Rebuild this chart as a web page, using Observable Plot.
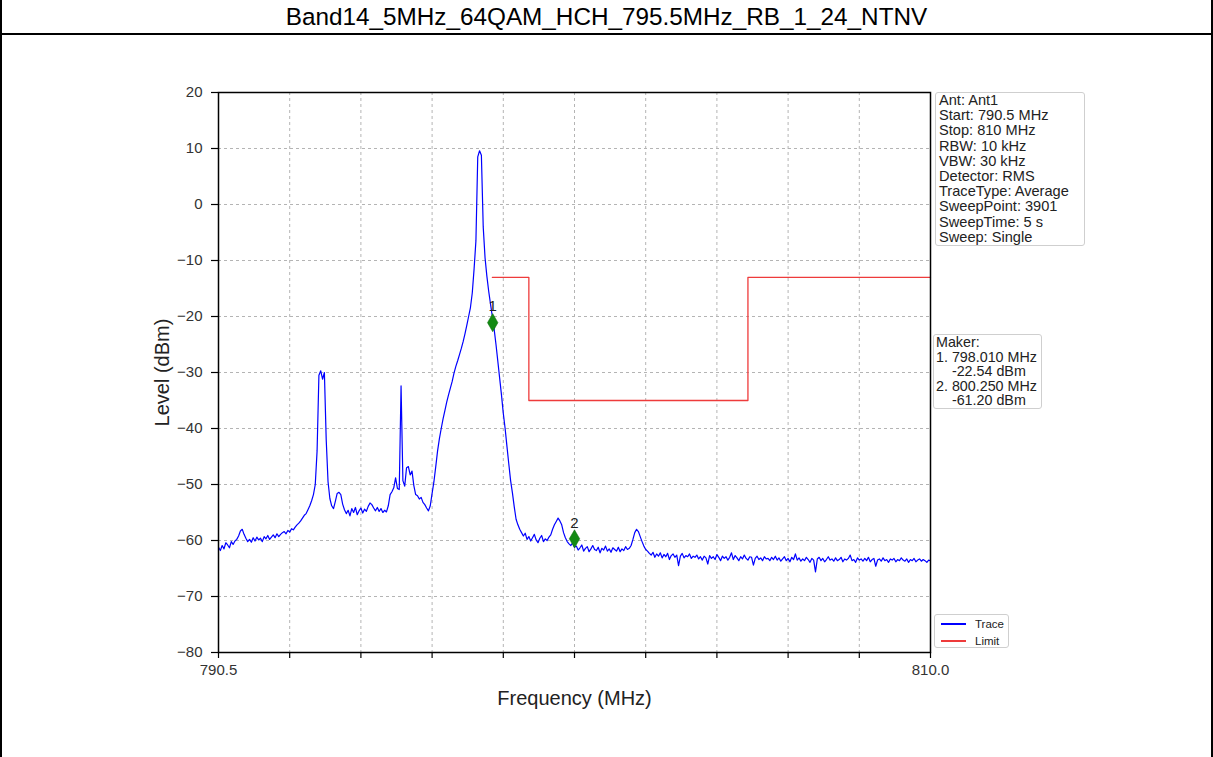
<!DOCTYPE html>
<html>
<head>
<meta charset="utf-8">
<script src="https://cdn.jsdelivr.net/npm/d3@7"></script>
<script src="https://cdn.jsdelivr.net/npm/@observablehq/plot@0.6"></script>
<style>
  body { margin: 0; background: #fff; font-family: "Liberation Sans", Arial, sans-serif; }
  #page { position: relative; width: 1213px; height: 757px; overflow: hidden; background: #fff; }
  #title { position: absolute; left: 0; top: 0; width: 1213px; height: 33px; line-height: 34px; text-align: center; font-size: 24.3px; color: #000; }
  .hline { position: absolute; left: 0; top: 33px; width: 1213px; height: 2px; background: #000; }
  .vline { position: absolute; top: 0; width: 2px; height: 757px; background: #000; }
  #chart { position: absolute; left: 0; top: 35px; }
  .box { position: absolute; border: 1px solid #cfcfcf; border-radius: 3px; background: #fff; color: #222; white-space: pre; box-sizing: border-box; }
  #info { left: 935px; top: 92px; width: 150px; height: 154px; font-size: 14.6px; line-height: 15.2px; padding: 0 0 0 3px; }
  #maker { left: 933px; top: 334px; width: 109px; height: 75px; font-size: 14.3px; line-height: 14.5px; padding: 0 0 0 2px; }
  #legend { left: 934px; top: 614px; width: 75px; height: 34px; font-size: 11.5px; }
  .lg { position: absolute; left: 6px; width: 25px; height: 2px; }
  .lt { position: absolute; left: 40px; line-height: 12px; }
</style>
</head>
<body>
<div id="page">
  <div id="title"></div>
  <div class="hline"></div>
  <div class="vline" style="left:0"></div>
  <div class="vline" style="left:1211px"></div>
  <div id="chart"></div>
  <div class="box" id="info"></div>
  <div class="box" id="maker"></div>
  <div class="box" id="legend"></div>
</div>
<script>
// ---- data ----
const titleText = "Band14_5MHz_64QAM_HCH_795.5MHz_RB_1_24_NTNV";
const sweepStart = 790.5;   // MHz
const sweepStep = 0.05;     // MHz between the sampled trace points
const traceLevel = [
  -61.2,-61.8,-60.9,-61.5,-60.4,-60.8,-61.3,-60.2,-60.7,-60.1,-59.8,
  -59.2,-58.3,-58.0,-58.9,-59.6,-60.2,
  -59.8,-60.3,-59.5,-60.1,-59.4,-59.9,-59.6,-60.2,-59.3,-59.7,-59.1,-59.8,-59.4,-59.0,-59.5,-58.8,-59.3,-58.9,-58.6,
  -58.4,-58.8,-58.2,-58.5,-57.9,-58.1,-57.6,-57.2,-56.9,
  -56.5,-56.0,-55.5,-55.2,-54.5,-53.8,-52.9,-51.8,-50.0,-44.0,-30.5,
  -29.7,-31.2,-30.0,-42.0,-49.5,-52.5,-53.8,-54.3,-53.0,-51.6,-51.4,-51.8,-53.5,-54.5,
  -55.2,-54.6,-55.6,-54.3,-55.0,-54.1,-55.4,-54.7,-54.2,-55.1,-54.4,-54.8,-53.9,-53.3,-53.6,-54.2,-54.7,-54.1,-54.8,-54.3,-55.0,-54.6,-54.9,
  -53.8,-51.8,-51.3,-50.6,-48.8,-50.7,-50.9,-32.4,-49.3,-50.3,-47.0,-46.8,-48.3,-47.6,-50.2,-51.8,-52.0,-52.6,-52.3,-53.2,-53.6,-54.2,-54.7,-53.8,-51.6,
  -49.5,-46.8,-44.0,-41.8,-40.0,-38.3,-36.8,-35.3,-34.0,-32.8,
  -31.6,-30.1,-28.9,-27.9,-26.8,-25.7,-24.5,-23.1,-21.6,-20.0,
  -18.4,-15.8,-11.5,-6.5,8.5,9.6,8.8,-4.0,-9.5,-12.8,
  -15.5,-17.8,-20.0,-22.3,-25.0,-28.0,-31.0,-34.0,-37.3,-40.0,
  -43.2,-46.3,-49.3,-51.5,-54.0,-56.2,-57.2,-58.0,-58.6,
  -59.2,-58.7,-59.8,-59.3,-60.1,-59.5,-58.9,-59.9,-60.4,-59.6,-59.1,-60.2,-59.7,-60.0,
  -59.4,-59.0,-58.0,-57.2,-56.6,-56.0,-56.5,-57.2,-58.6,-59.5,-60.2,-60.6,-60.9,-60.4,-61.2,
  -61.0,-61.7,-61.3,-60.8,-61.9,-61.4,-61.1,-62.0,-61.5,-60.9,
  -61.6,-61.8,-61.2,-62.2,-61.4,-61.7,-61.0,-61.9,-61.5,-62.1,
  -61.3,-61.6,-61.9,-61.2,-62.0,-61.5,-61.8,-61.1,-61.6,-61.4,-60.9,
  -59.8,-58.6,-58.0,-58.4,-59.3,-60.2,-61.0,-61.6,-61.9,-62.3,
  -62.6,-62.1,-63.0,-62.4,-62.8,-62.2,-63.1,-62.5,-62.9,-62.3,
  -63.4,-62.7,-62.4,-63.0,-62.6,-64.5,-62.8,-62.3,-63.1,-62.7,
  -62.9,-62.4,-63.2,-62.8,
  -63.0,-62.6,-63.3,-62.9,-63.5,-62.8,-63.1,-64.2,-62.7,-63.2,
  -62.9,-63.4,-62.5,-63.0,-63.6,-62.8,-63.2,-62.9,-63.5,-63.0,
  -62.2,-63.4,-62.7,-63.1,-63.6,-62.9,-63.3,-62.6,-63.2,-63.5,
  -62.9,-63.0,-64.4,-63.2,-62.8,-63.4,-63.1,-63.6,-62.9,-63.3,
  -63.2,-63.6,-63.0,-63.4,-62.8,-63.5,-63.1,-63.7,-63.3,-62.9,
  -63.6,-63.2,-63.8,-63.0,-63.4,-62.4,-63.5,-63.1,-63.7,-63.3,
  -63.6,-63.0,-63.4,-63.9,-63.2,-63.5,-65.6,-63.3,-63.0,-63.6,
  -63.2,-63.8,-63.4,-62.9,-63.5,-63.3,-63.7,-63.1,-63.6,-63.4,
  -63.0,-63.8,-63.3,-63.5,-63.2,-62.6,-63.6,-63.4,-63.9,-63.1,
  -63.5,-63.3,-63.7,-63.2,-63.6,-63.0,-63.8,-63.4,-63.2,-64.6,
  -63.5,-63.3,-63.7,-63.1,-63.6,-63.4,-63.9,-63.3,-63.5,-63.2,
  -63.8,-63.4,-63.6,-63.1,-63.5,-63.7,-63.3,-63.9,-63.4,-63.6,
  -63.2,-63.8,-63.5,-63.3,-63.7,-63.4,-63.6,-63.9,-63.5,-63.6
];
const limitFreq  = [798.0, 799.0, 799.0, 805.0, 805.0, 810.0];
const limitLevel = [-13, -13, -35, -35, -13, -13];
const markerLabel = ["1", "2"];
const markerFreq  = [798.01, 800.25];
const markerLevel = [-21.1, -59.7];
const xTicks = [790.5, 792.45, 794.4, 796.35, 798.3, 800.25, 802.2, 804.15, 806.1, 808.05, 810.0];
const xTickLabels = ["790.5", "", "", "", "", "", "", "", "", "", "810.0"];
const yTicks = [-80, -70, -60, -50, -40, -30, -20, -10, 0, 10, 20];
const infoLines = ["Ant: Ant1", "Start: 790.5 MHz", "Stop: 810 MHz", "RBW: 10 kHz", "VBW: 30 kHz",
  "Detector: RMS", "TraceType: Average", "SweepPoint: 3901", "SweepTime: 5 s", "Sweep: Single"];
const makerLines = ["Maker:", "1. 798.010 MHz", "    -22.54 dBm", "2. 800.250 MHz", "    -61.20 dBm"];
const legendNames = ["Trace", "Limit"];
const legendColors = ["#0000ff", "#ee3b3b"];

// ---- build ----
document.getElementById("title").textContent = titleText;
document.getElementById("info").textContent = infoLines.join("\n");
document.getElementById("maker").textContent = makerLines.join("\n");
const lg = document.getElementById("legend");
legendNames.forEach((n, i) => {
  const line = document.createElement("div");
  line.className = "lg"; line.style.top = (8 + i * 17) + "px"; line.style.background = legendColors[i];
  const t = document.createElement("div");
  t.className = "lt"; t.style.top = (3 + i * 17) + "px"; t.textContent = n;
  lg.appendChild(line); lg.appendChild(t);
});

const trace = traceLevel.map((v, i) => ({f: sweepStart + i * sweepStep, v}));
const limit = limitFreq.map((f, i) => ({f, v: limitLevel[i]}));
const markers = markerFreq.map((f, i) => ({f, v: markerLevel[i], label: markerLabel[i]}));

const chart = Plot.plot({
  width: 1213,
  height: 722,
  marginLeft: 218,
  marginRight: 283,
  marginTop: 57,
  marginBottom: 105,
  style: {fontFamily: "'Liberation Sans', Arial, sans-serif", fontSize: "15px", color: "#222", background: "transparent"},
  x: {domain: [790.5, 810]},
  y: {domain: [-80, 20]},
  marks: [
    Plot.gridX(xTicks, {stroke: "#b4b4b4", strokeOpacity: 1, strokeDasharray: "3,3"}),
    Plot.gridY(yTicks, {stroke: "#b4b4b4", strokeOpacity: 1, strokeDasharray: "3,3"}),
    Plot.line(trace, {x: "f", y: "v", stroke: legendColors[0], strokeWidth: 1.2, clip: true}),
    Plot.line(limit, {x: "f", y: "v", stroke: legendColors[1], strokeWidth: 1.3}),
    Plot.dot(markers, {x: "f", y: "v", symbol: "diamond", r: 5.5, fill: "#138a13", stroke: "#0d6d0d", strokeWidth: 0.5}),
    Plot.text(markers, {x: "f", y: "v", text: "label", dy: -16, fontSize: 15, fill: "#222"}),
    Plot.frame({stroke: "#000", strokeWidth: 1.5}),
    Plot.axisY(yTicks, {anchor: "left", tickSize: 7, tickPadding: 9, label: null, fontSize: 15, stroke: "#000", strokeWidth: 1.2, fill: "#333"}),
    Plot.axisX(xTicks, {anchor: "bottom", tickSize: 6, tickPadding: 6, label: null, tickFormat: d => xTickLabels[xTicks.indexOf(d)], fontSize: 15, stroke: "#000", strokeWidth: 1.2, fill: "#333"}),
    Plot.text(["Level (dBm)"], {text: d => d, frameAnchor: "left", dx: -64, rotate: -90, textAnchor: "middle", lineAnchor: "top", fontSize: 20, fill: "#222"}),
    Plot.text(["Frequency (MHz)"], {text: d => d, frameAnchor: "bottom", dy: 52, lineAnchor: "bottom", fontSize: 20, fill: "#222"})
  ]
});
document.getElementById("chart").appendChild(chart);
</script>
</body>
</html>
